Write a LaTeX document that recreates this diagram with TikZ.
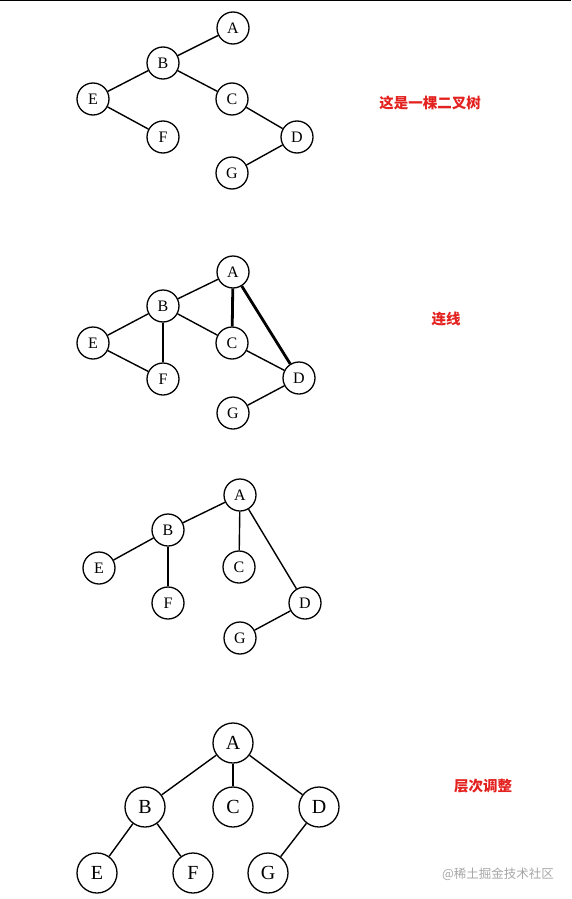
\documentclass[tikz,border=0pt]{standalone}
\usepackage{fontspec}
\setmainfont{Liberation Serif}
\newfontfamily\cjk{Noto Sans CJK SC}
\definecolor{notered}{HTML}{E3211F}
\definecolor{markgray}{HTML}{A6A6A6}
\tikzset{
  vertex/.style={draw,circle,line width=1.3pt,minimum size=32pt,inner sep=0pt,
    font=\fontsize{16}{16}\selectfont},
  bigvertex/.style={vertex,minimum size=40pt,font=\fontsize{20}{20}\selectfont},
  edge/.style={line width=1.4pt},
  boldedge/.style={line width=2.8pt},
  note/.style={text=notered,font=\cjk\bfseries\fontsize{14.5}{14.5}\selectfont}
}

\begin{document}
\begin{tikzpicture}[x=1pt,y=-1pt]
  \useasboundingbox (0,0) rectangle (571,899);
  \draw[line width=1.5pt] (0,0.75) -- (571,0.75);
  % binary tree
  \foreach \n/\x/\y in {A/233/28,B/163/63,E/93/99,C/232/99,F/163/137,D/297/137,G/232/173}
    \node[vertex] (\n1) at (\x,\y) {\n};
  \foreach \u/\v in {A/B,B/E,B/C,E/F,C/D,D/G}
    \draw[edge] (\u1) -- (\v1);
  \node[note] (t1) at (430,103) {这是一棵二叉树};
  % connecting siblings
  \foreach \n/\x/\y in {A/233/272,B/163/306,E/93/343,C/232/343,F/163/379,D/299/378,G/233/413}
    \node[vertex] (\n2) at (\x,\y) {\n};
  \foreach \u/\v in {A/B,B/E,B/C,E/F,C/D,D/G}
    \draw[edge] (\u2) -- (\v2);
  \foreach \u/\v in {A/C,A/D,B/F}
    \draw[boldedge] (\u2) -- (\v2);
  \node[note] (t2) at (446,319) {连线};
  % removing old links
  \foreach \n/\x/\y in {A/240/495,B/168/530,E/99/568,C/239/567,F/168/603,D/305/603,G/240/638}
    \node[vertex] (\n3) at (\x,\y) {\n};
  \foreach \u/\v in {A/B,A/C,A/D,B/E,B/F,D/G}
    \draw[edge] (\u3) -- (\v3);
  % levelled tree
  \foreach \n/\x/\y in {A/233/743,B/145/807,C/233/807,D/319/807,E/97/873,F/193/873,G/268/873}
    \node[bigvertex] (\n4) at (\x,\y) {\n};
  \foreach \u/\v in {A/B,A/C,A/D,B/E,B/F,D/G}
    \draw[edge] (\u4) -- (\v4);
  \node[note] (t4) at (483,786) {层次调整};
  \node[text=markgray,font=\cjk\fontsize{12.5}{12.5}\selectfont] (mark) at (498,874) {@稀土掘金技术社区};
\end{tikzpicture}
\end{document}
